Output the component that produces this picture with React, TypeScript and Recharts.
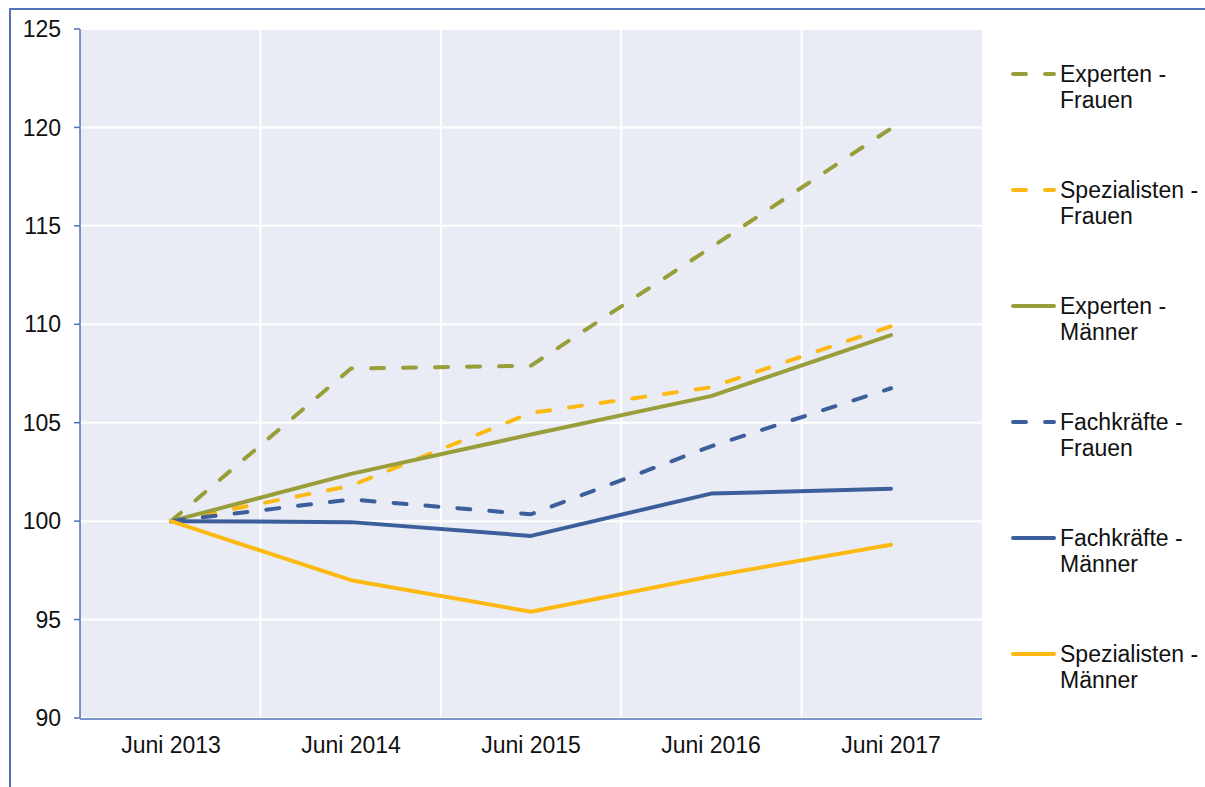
import { LineChart, Line, XAxis, YAxis, CartesianGrid } from 'recharts';

const years = ['Juni 2013', 'Juni 2014', 'Juni 2015', 'Juni 2016', 'Juni 2017'];

const expertenFrauen = [100, 107.75, 107.9, 113.9, 119.95];
const spezialistenFrauen = [100, 101.8, 105.5, 106.8, 109.9];
const expertenMaenner = [100, 102.4, 104.4, 106.35, 109.45];
const fachkraefteFrauen = [100, 101.1, 100.35, 103.8, 106.75];
const fachkraefteMaenner = [100, 99.95, 99.25, 101.4, 101.65];
const spezialistenMaenner = [100, 97.0, 95.4, 97.2, 98.8];

const yTicks = [90, 95, 100, 105, 110, 115, 120, 125];
const edgeTicks = [0, 1, 2, 3, 4, 5];

const OLIVE = '#999E3B';
const YELLOW = '#FDB913';
const BLUE = '#3C5F9C';
const AXIS = '#4F72B5';
const FONT = '"Liberation Sans", Arial, sans-serif';

const series = [
  { key: 'ef', label: ['Experten -', 'Frauen'], color: OLIVE, dashed: true, values: expertenFrauen },
  { key: 'sf', label: ['Spezialisten -', 'Frauen'], color: YELLOW, dashed: true, values: spezialistenFrauen },
  { key: 'em', label: ['Experten -', 'Männer'], color: OLIVE, dashed: false, values: expertenMaenner },
  { key: 'ff', label: ['Fachkräfte -', 'Frauen'], color: BLUE, dashed: true, values: fachkraefteFrauen },
  { key: 'fm', label: ['Fachkräfte -', 'Männer'], color: BLUE, dashed: false, values: fachkraefteMaenner },
  { key: 'sm', label: ['Spezialisten -', 'Männer'], color: YELLOW, dashed: false, values: spezialistenMaenner },
];

const data = years.map((year, i) => {
  const row: Record<string, string | number> = { year, edge: i };
  series.forEach(s => { row[s.key] = s.values[i]; });
  return row;
});

const tickStyle = { fill: '#111', fontSize: 23, fontFamily: FONT };

// category boundaries for the vertical grid lines
const boundaryLines = ({ offset }: any) =>
  edgeTicks.slice(1, -1).map(i => offset.left + (offset.width * i) / years.length);

function LegendBox() {
  return (
    <div style={{ position: 'absolute', left: 1009, top: 61, fontFamily: FONT, fontSize: 23, color: '#111' }}>
      {series.map(s => (
        <div key={s.key} style={{ display: 'flex', height: 52, marginBottom: 64 }}>
          <svg width={51} height={26} style={{ flex: 'none' }}>
            <line
              x1={4} y1={13} x2={45} y2={13}
              stroke={s.color} strokeWidth={4} strokeLinecap="round"
              strokeDasharray={s.dashed ? '13 19' : undefined}
            />
          </svg>
          <div style={{ lineHeight: '26px', whiteSpace: 'nowrap' }}>
            {s.label[0]}<br />{s.label[1]}
          </div>
        </div>
      ))}
    </div>
  );
}

export default function App() {
  return (
    <div style={{ position: 'absolute', left: 0, top: 0, width: 1205, height: 787, overflow: 'hidden', background: '#fff' }}>
      <div style={{
        position: 'absolute', left: 9, top: 8, width: 1400, height: 1000,
        border: `2px solid ${AXIS}`, boxSizing: 'border-box',
      }} />
      <div style={{ position: 'absolute', left: 0, top: 0 }}>
        <LineChart width={1205} height={787} data={data} margin={{ top: 29, right: 223, left: 0, bottom: 0 }}>
          <CartesianGrid
            fill="#E9ECF4"
            stroke="#FFFFFF"
            strokeWidth={2}
            verticalCoordinatesGenerator={boundaryLines}
          />
          <XAxis
            dataKey="year"
            height={1}
            padding={{ left: 91, right: 91 }}
            axisLine={false}
            tickLine={false}
            tickSize={6}
            tickMargin={13}
            tick={tickStyle}
            interval={0}
          />
          <XAxis
            xAxisId="edges"
            dataKey="edge"
            type="number"
            domain={[0, 5]}
            ticks={edgeTicks}
            allowDataOverflow
            height={68}
            tick={false}
            tickSize={6}
            tickLine={{ stroke: AXIS, strokeWidth: 1.5 }}
            axisLine={{ stroke: AXIS, strokeWidth: 1.5 }}
          />
          <YAxis
            width={80}
            domain={[90, 125]}
            ticks={yTicks}
            interval={0}
            tickSize={6}
            tickMargin={13}
            tick={tickStyle}
            tickLine={{ stroke: AXIS, strokeWidth: 1.5 }}
            axisLine={{ stroke: AXIS, strokeWidth: 1.5 }}
          />
          {series.map(s => (
            <Line
              key={s.key}
              dataKey={s.key}
              type="linear"
              stroke={s.color}
              strokeWidth={4}
              strokeLinecap="round"
              strokeLinejoin="round"
              strokeDasharray={s.dashed ? '13 19' : undefined}
              dot={false}
              activeDot={false}
              isAnimationActive={false}
            />
          ))}
        </LineChart>
      </div>
      <LegendBox />
    </div>
  );
}
